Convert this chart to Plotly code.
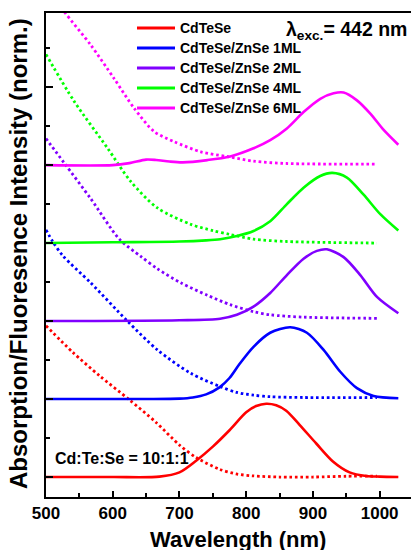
import plotly.graph_objects as go

# ---------------- data (normalized intensities) ----------------
names = ["CdTeSe", "CdTeSe/ZnSe 1ML", "CdTeSe/ZnSe 2ML", "CdTeSe/ZnSe 4ML", "CdTeSe/ZnSe 6ML"]
colors = ["#FF0000", "#0000FF", "#8000FF", "#00FF00", "#FF00FF"]
offsets = [0, 1, 2, 3, 4]

# Fluorescence (solid)
pl_red_x = [500, 600, 670, 700, 725, 750, 775, 800, 815, 830, 845, 860, 880, 905, 930, 955, 980, 1000, 1028]
pl_red_y = [0, 0, 0.005, 0.06, 0.21, 0.39, 0.60, 0.83, 0.91, 0.94, 0.92, 0.85, 0.67, 0.43, 0.20, 0.06, 0.013, 0.005, 0]

pl_blue_x = [500, 650, 700, 720, 740, 760, 775, 790, 811, 836, 866, 891, 916, 941, 966, 991, 1028]
pl_blue_y = [0, 0, 0.005, 0.02, 0.06, 0.15, 0.27, 0.45, 0.67, 0.85, 0.92, 0.85, 0.63, 0.35, 0.14, 0.04, 0.01]

pl_purple_x = [500, 700, 761, 786, 811, 836, 861, 886, 906, 921, 946, 971, 996, 1028]
pl_purple_y = [0, 0.01, 0.03, 0.08, 0.185, 0.36, 0.59, 0.80, 0.90, 0.92, 0.82, 0.59, 0.31, 0.10]

pl_green_x = [500, 600, 700, 740, 761, 786, 811, 836, 861, 886, 911, 929, 951, 976, 1001, 1028]
pl_green_y = [0, 0.01, 0.02, 0.035, 0.05, 0.09, 0.155, 0.28, 0.50, 0.71, 0.86, 0.90, 0.84, 0.62, 0.37, 0.16]

pl_mag_x = [500, 600, 625, 650, 665, 685, 705, 742, 776, 811, 836, 861, 886, 911, 931, 946, 966, 986, 1006, 1028]
pl_mag_y = [0, 0, 0.025, 0.07, 0.065, 0.045, 0.035, 0.064, 0.11, 0.215, 0.32, 0.47, 0.68, 0.85, 0.92, 0.93, 0.83, 0.66, 0.45, 0.26]

# Absorption (dotted)
ab_red_x = [500, 540, 580, 625, 665, 700, 725, 760, 785, 810, 850, 900, 950, 996]
ab_red_y = [1.94, 1.60, 1.30, 0.99, 0.70, 0.41, 0.25, 0.10, 0.04, 0.015, 0.0, 0.0, 0.01, 0.01]

ab_blue_x = [500, 510, 525, 567, 622, 667, 717, 761, 786, 811, 836, 886, 996]
ab_blue_y = [2.17, 2.02, 1.84, 1.49, 1.00, 0.63, 0.33, 0.16, 0.085, 0.05, 0.03, 0.02, 0.02]

ab_purple_x = [500, 527, 567, 610, 642, 667, 702, 742, 776, 811, 836, 886, 996]
ab_purple_y = [2.34, 2.03, 1.57, 1.05, 0.83, 0.67, 0.49, 0.33, 0.21, 0.12, 0.08, 0.05, 0.035]

ab_green_x = [500, 542, 592, 627, 667, 717, 750, 776, 811, 861, 996]
ab_green_y = [2.42, 1.82, 1.22, 0.79, 0.45, 0.24, 0.16, 0.11, 0.05, 0.02, 0.0]

ab_mag_x = [500, 527, 567, 602, 632, 662, 692, 732, 771, 811, 861, 996]
ab_mag_y = [2.30, 1.97, 1.54, 1.11, 0.73, 0.43, 0.30, 0.17, 0.11, 0.05, 0.02, 0.013]

pl_x = [pl_red_x, pl_blue_x, pl_purple_x, pl_green_x, pl_mag_x]
pl_y = [pl_red_y, pl_blue_y, pl_purple_y, pl_green_y, pl_mag_y]
ab_x = [ab_red_x, ab_blue_x, ab_purple_x, ab_green_x, ab_mag_x]
ab_y = [ab_red_y, ab_blue_y, ab_purple_y, ab_green_y, ab_mag_y]

x_ticks = [500, 600, 700, 800, 900, 1000]
y_ticks = [0, 1, 2, 3, 4, 5]

# ---------------- figure ----------------
FONT = "Liberation Sans, Arial, sans-serif"
W, H = 411, 550
ML, MR, MT, MB = 46, 0, 13, 53
PW, PH = W - ML - MR, H - MT - MB


def px_x(p):  # pixel -> paper x
    return (p - ML) / PW


def px_y(p):  # pixel -> paper y
    return (H - MB - p) / PH


fig = go.Figure()

for i in range(5):
    fig.add_trace(go.Scatter(
        x=ab_x[i], y=[v + offsets[i] for v in ab_y[i]], mode="lines",
        line=dict(color=colors[i], width=2.8, dash="2.6px,2.8px", shape="spline", smoothing=0.8),
        showlegend=False, hoverinfo="skip"))

for i in range(5):
    fig.add_trace(go.Scatter(
        x=pl_x[i], y=[v + offsets[i] for v in pl_y[i]], mode="lines", name=names[i],
        line=dict(color=colors[i], width=2.6, shape="spline", smoothing=0.8),
        showlegend=False))

annotations = [
    dict(text="λ<sub>exc.</sub>= 442 nm", xref="paper", yref="paper", x=px_x(409), y=px_y(30),
         xanchor="right", yanchor="middle", showarrow=False,
         font=dict(family=FONT, size=19.5, weight="bold")),
    dict(text="Cd:Te:Se = 10:1:1", xref="paper", yref="paper", x=px_x(53), y=px_y(458),
         xanchor="left", yanchor="middle", showarrow=False,
         font=dict(family=FONT, size=16, weight="bold")),
    dict(text="Wavelength (nm)", xref="paper", yref="paper", x=px_x(238), y=px_y(539),
         xanchor="center", yanchor="middle", showarrow=False,
         font=dict(family=FONT, size=22, weight="bold")),
    dict(text="Absorption/Fluoresence Intensity (norm.)", xref="paper", yref="paper",
         x=px_x(19), y=px_y(254), textangle=-90,
         xanchor="center", yanchor="middle", showarrow=False,
         font=dict(family=FONT, size=24, weight="bold")),
]
shapes = []
for k in range(5):
    yc = px_y(28 + 20 * k)
    shapes.append(dict(type="line", xref="paper", yref="paper", x0=px_x(137), x1=px_x(175),
                       y0=yc, y1=yc, line=dict(color=colors[k], width=3)))
    annotations.append(dict(text=names[k], xref="paper", yref="paper", x=px_x(178), y=yc,
                            xanchor="left", yanchor="middle", showarrow=False,
                            font=dict(family=FONT, size=14, weight="bold")))

fig.update_layout(
    width=W, height=H,
    margin=dict(l=ML, r=MR, t=MT, b=MB),
    paper_bgcolor="white", plot_bgcolor="white",
    font=dict(family=FONT, color="black"),
    showlegend=False,
    xaxis=dict(range=[500, 1047], tickvals=x_ticks, ticks="inside", ticklen=6, tickwidth=2,
               tickcolor="black", showline=True, linewidth=2, linecolor="black", mirror=True,
               showgrid=False, zeroline=False,
               minor=dict(ticks="inside", ticklen=4, tickwidth=2, dtick=50, tick0=500, tickcolor="black"),
               tickfont=dict(family=FONT, size=17, weight="bold")),
    yaxis=dict(range=[-0.256, 5.95], tickvals=y_ticks, ticks="inside", ticklen=7, tickwidth=2,
               tickcolor="black", showticklabels=False, showline=True, linewidth=2, linecolor="black",
               mirror=False, showgrid=False, zeroline=False,
               minor=dict(ticks="inside", ticklen=4, tickwidth=2, dtick=0.5, tick0=0, tickcolor="black")),
    annotations=annotations,
    shapes=shapes,
)

fig.write_html("out.html")
